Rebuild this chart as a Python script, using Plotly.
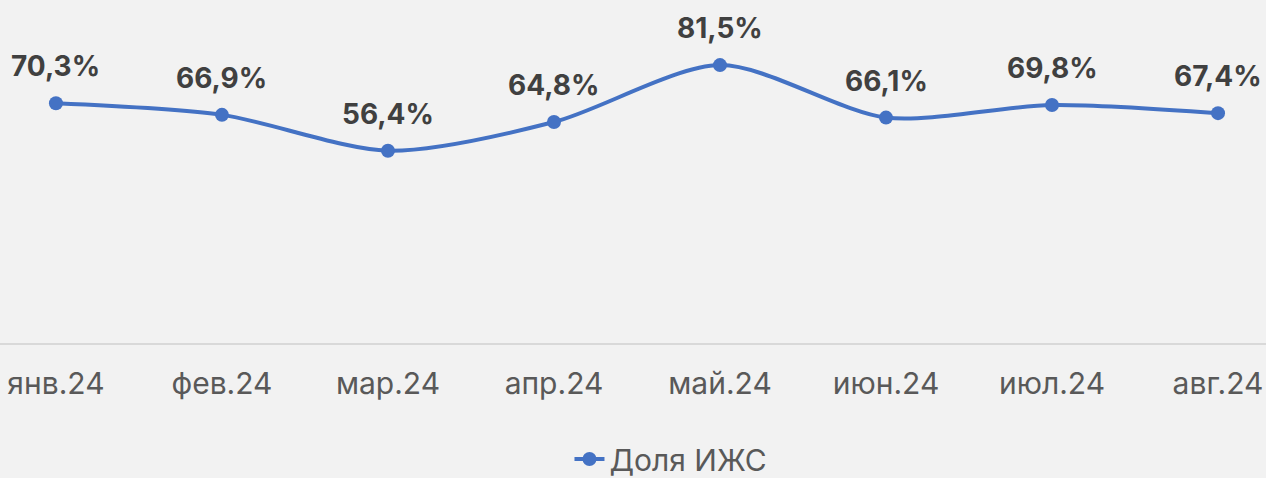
import plotly.graph_objects as go

categories = ["янв.24", "фев.24", "мар.24", "апр.24", "май.24", "июн.24", "июл.24", "авг.24"]
values = [70.3, 66.9, 56.4, 64.8, 81.5, 66.1, 69.8, 67.4]
labels = ["70,3%", "66,9%", "56,4%", "64,8%", "81,5%", "66,1%", "69,8%", "67,4%"]
series_name = "Доля ИЖС"

xs = list(range(len(categories)))
color = "#4472C4"
font_family = "Inter, 'Open Sans', sans-serif"

fig = go.Figure()
fig.add_trace(go.Scatter(
    x=xs, y=values, mode="lines+markers", name=series_name,
    line=dict(color=color, width=4, shape="spline", smoothing=0.8),
    marker=dict(color=color, size=14),
))

for x, v, t in zip(xs, values, labels):
    fig.add_annotation(x=x, y=v, text="<b>" + t + "</b>", showarrow=False,
                       yshift=37, font=dict(size=28, color="#404040", family=font_family))

fig.update_layout(
    width=1266, height=478,
    margin=dict(l=0, r=0, t=2, b=135, autoexpand=False),
    paper_bgcolor="#f2f2f2", plot_bgcolor="#f2f2f2",
    font=dict(family=font_family, color="#595959"),
    xaxis=dict(range=[-0.337, 7.289], tickmode="array", tickvals=xs, ticktext=categories,
               showgrid=False, zeroline=False, showline=True, linecolor="#d9d9d9", linewidth=2,
               tickfont=dict(size=30, color="#595959"), ticks="", ticklen=0,
               ticklabelstandoff=13, automargin=False),
    yaxis=dict(range=[0, 100], visible=False, showgrid=False, zeroline=False, automargin=False),
    showlegend=True,
    legend=dict(orientation="h", x=0.53, xanchor="center", y=-0.34, yanchor="middle",
                font=dict(size=30, color="#595959"), bgcolor="rgba(0,0,0,0)"),
)

fig.write_html("out.html", config={"displayModeBar": False},
               post_script="document.body.style.margin='0';document.body.style.background='#f2f2f2';")
